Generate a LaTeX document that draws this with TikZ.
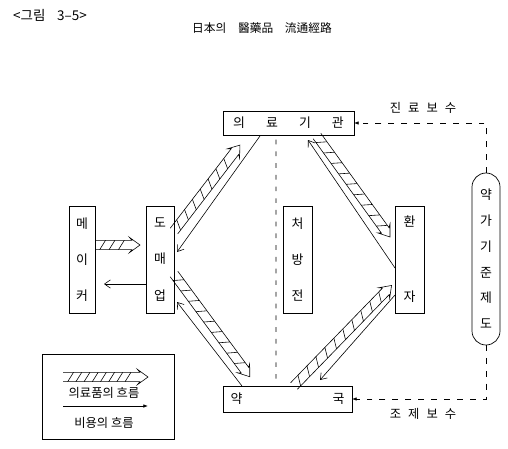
\documentclass[tikz,border=0pt]{standalone}
\usepackage{fontspec}
\setmainfont{Noto Sans CJK KR}
\usetikzlibrary{calc,arrows.meta}
\tikzset{
  box/.style={draw, line width=0.6pt, inner sep=0pt, outer sep=0pt, align=center, font=\fontsize{11}{13}\selectfont},
  lbl/.style={font=\fontsize{10.5}{12}\selectfont},
  cost/.style={line width=0.5pt, -{Straight Barb[length=5pt,width=7pt]}},
  fee/.style={line width=0.6pt, dash pattern=on 5pt off 6pt, -{Latex[length=4pt,width=3pt]}}
}
% hatched arrow (flow of goods) between two named coordinates
\newcommand{\supply}[3][11]{%
  \pgfpointdiff{\pgfpointanchor{#2}{center}}{\pgfpointanchor{#3}{center}}%
  \pgfgetlastxy{\hdx}{\hdy}%
  \pgfmathsetmacro{\hang}{atan2(\hdy,\hdx)}%
  \pgfmathsetmacro{\hlen}{veclen(\hdx,\hdy)}%
  \pgfmathsetmacro{\hsec}{4+#1}%
  \pgfmathsetmacro{\hend}{\hlen-14}%
  \begin{scope}[shift={(#2)}, rotate=\hang, line width=0.5pt]
    \draw (0pt,4pt) -- (\hlen pt-7pt,4pt) -- (\hlen pt-9pt,6.5pt) -- (\hlen pt,0pt) -- (\hlen pt-9pt,-6.5pt) -- (\hlen pt-7pt,-4pt) -- (0pt,-4pt);
    \foreach \t in {4,\hsec,...,\hend} \draw (\t pt,-4pt) -- (\t pt+5pt,4pt);
  \end{scope}%
}

\begin{document}
\begin{tikzpicture}[x=0.03cm, y=-0.03cm]
    \useasboundingbox (0,0) rectangle (508,448);
    \node[anchor=west, font=\fontsize{11.5}{13}\selectfont] (fig) at (9,15) {<그림\hspace{10pt}3--5>};
    \node[font=\fontsize{10}{12}\selectfont] (title) at (262,28) {日本의\hspace{10pt}醫藥品\hspace{10pt}流通經路};

    \node[box, minimum width=3.93cm, minimum height=0.72cm] (clinic) at (288.5,123) {의\hspace{18pt}료\hspace{18pt}기\hspace{18pt}관};
    \node[box, minimum width=3.87cm, minimum height=0.78cm] (pharm) at (287.5,399) {약\hspace{77pt}국};
    \node[box, minimum width=0.78cm, minimum height=3.21cm] (maker) at (82,259.5) {메\\[18pt]이\\[18pt]커};
    \node[box, minimum width=0.84cm, minimum height=3.21cm] (doma) at (160,259.5) {도\\[18pt]매\\[18pt]업};
    \node[box, minimum width=0.87cm, minimum height=3.21cm] (presc) at (297.5,259.5) {처\\[18pt]방\\[18pt]전};
    \node[box, minimum width=0.87cm, minimum height=3.21cm] (patient) at (409.5,259.5) {환\\[51pt]자};
    \node[box, minimum width=0.84cm, minimum height=5.16cm, rounded corners=0.42cm] (yakga) at (486,259) {약\\[9pt]가\\[9pt]기\\[9pt]준\\[9pt]제\\[9pt]도};

    % flow of goods
    \coordinate (g1s) at ($(doma.north east)+(0,25)$);    \coordinate (g1e) at ($(clinic.south west)+(17,10)$);
    \coordinate (g2s) at ($(doma.north east)+(0,68)$);    \coordinate (g2e) at ($(pharm.north west)+(27,-9)$);
    \coordinate (g3s) at ($(clinic.south west)+(94,1)$);  \coordinate (g3e) at ($(patient.north west)+(-5,31)$);
    \coordinate (g4s) at ($(pharm.north west)+(71,0)$);   \coordinate (g4e) at ($(patient.north west)+(-3,79)$);
    \coordinate (g5s) at ($(maker.north east)+(0,39)$);   \coordinate (g5e) at ($(doma.north west)+(-6,39)$);
    \supply{g1s}{g1e} \supply{g2s}{g2e} \supply{g3s}{g3e}
    \supply{g4s}{g4e} \supply[8]{g5s}{g5e}

    % flow of costs
    \coordinate (c1s) at ($(clinic.south west)+(37,1)$);  \coordinate (c1e) at ($(doma.north east)+(3,46)$);
    \coordinate (c2s) at ($(pharm.north west)+(19,0)$);   \coordinate (c2e) at ($(doma.north east)+(3,96)$);
    \coordinate (c3s) at ($(patient.north west)+(0,62)$); \coordinate (c3e) at ($(clinic.south west)+(85,5)$);
    \coordinate (c4s) at ($(patient.north west)+(0,89)$); \coordinate (c4e) at ($(pharm.north west)+(97,-6)$);
    \coordinate (c5s) at ($(doma.north west)+(0,78)$);    \coordinate (c5e) at ($(maker.north east)+(9,78)$);
    \draw[cost] (c1s) -- (c1e); \draw[cost] (c2s) -- (c2e); \draw[cost] (c3s) -- (c3e);
    \draw[cost] (c4s) -- (c4e); \draw[cost] (c5s) -- (c5e);

    % prescription split and fees
    \coordinate (mt) at ($(clinic.south west)+(53,0)$);   \coordinate (mb) at ($(pharm.north west)+(53,0)$);
    \draw[line width=0.6pt, dash pattern=on 4pt off 6pt, shorten <=4pt, shorten >=2pt] (mt) -- (mb);
    \draw[fee] (yakga.north) |- (clinic.east);
    \draw[fee] (yakga.south) |- (pharm.east);
    \node[lbl] (jinryo) at (423,108) {진\hspace{6pt}료\hspace{6pt}보\hspace{6pt}수};
    \node[lbl] (joje) at (423,414) {조\hspace{6pt}제\hspace{6pt}보\hspace{6pt}수};

    % legend
    \node[box, minimum width=3.96cm, minimum height=2.55cm] (legend) at (108,396.5) {};
    \coordinate (lgs) at (63,377); \coordinate (lge) at (148,377);
    \supply[7]{lgs}{lge}
    \node[lbl] (goods) at (104,393) {의료품의 흐름};
    \coordinate (lcs) at (63,406); \coordinate (lce) at (148,406);
    \draw[line width=0.6pt, -{Latex[length=4pt,width=3pt]}] (lcs) -- (lce);
    \node[lbl] (costs) at (104,423) {비용의 흐름};
\end{tikzpicture}
\end{document}
